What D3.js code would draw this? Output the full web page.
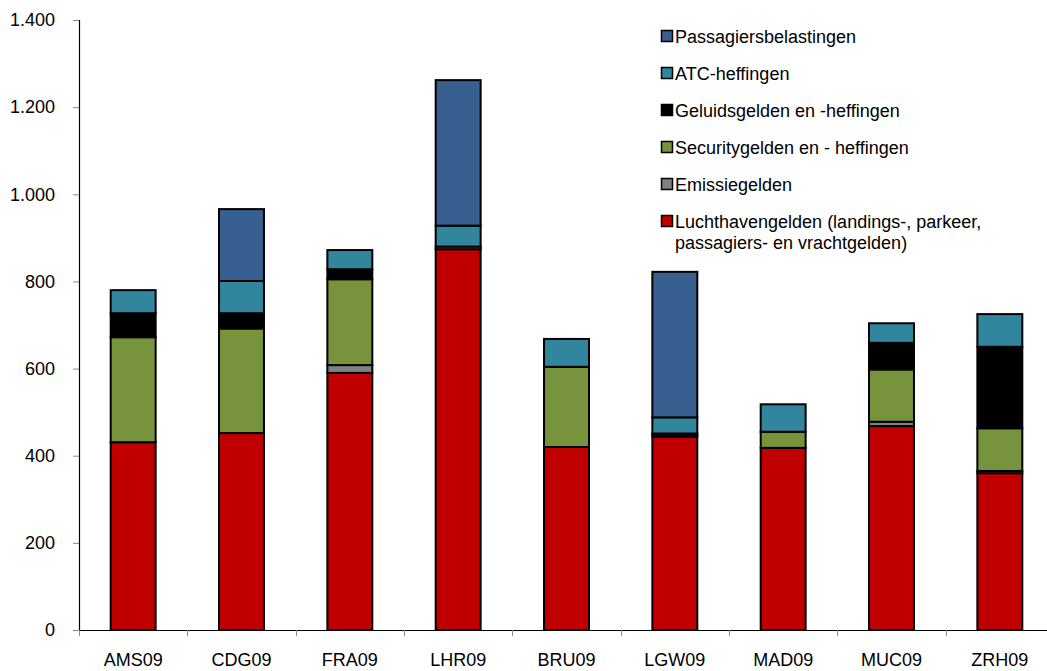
<!DOCTYPE html>
<html>
<head>
<meta charset="utf-8">
<script src="https://cdn.jsdelivr.net/npm/d3@7"></script>
<style>
  html, body { margin: 0; padding: 0; background: #fff; }
  svg { display: block; font-family: "Liberation Sans", Arial, sans-serif; }
</style>
</head>
<body>
<svg id="chart" width="1047" height="671"></svg>
<script>
const categories = ["AMS09", "CDG09", "FRA09", "LHR09", "BRU09", "LGW09", "MAD09", "MUC09", "ZRH09"];
const seriesNames = [
  "Luchthavengelden (landings-, parkeer, passagiers- en vrachtgelden)",
  "Emissiegelden",
  "Securitygelden en - heffingen",
  "Geluidsgelden en -heffingen",
  "ATC-heffingen",
  "Passagiersbelastingen"
];
const luchthaven = [431, 452, 590, 874, 420, 444, 418, 468, 360];
const emissie    = [0, 0, 18, 6, 0, 3, 0, 10, 5];
const security   = [241, 240, 197, 0, 184, 0, 37, 120, 98];
const geluid     = [55, 35, 23, 0, 0, 4, 0, 61, 187];
const atc        = [53, 74, 44, 48, 64, 37, 63, 45, 75];
const passagiers = [0, 165, 0, 334, 0, 334, 0, 0, 0];
const colors = ["#C00000", "#808080", "#77933C", "#000000", "#31859C", "#375F8F"];
const yTicks = [0, 200, 400, 600, 800, 1000, 1200, 1400];
const legendLines = [
  ["Passagiersbelastingen"],
  ["ATC-heffingen"],
  ["Geluidsgelden en -heffingen"],
  ["Securitygelden en - heffingen"],
  ["Emissiegelden"],
  ["Luchthavengelden (landings-, parkeer,", "passagiers- en vrachtgelden)"]
];

const seriesArrays = [luchthaven, emissie, security, geluid, atc, passagiers];
const table = categories.map((c, i) => {
  const row = { cat: c };
  seriesNames.forEach((s, k) => row[s] = seriesArrays[k][i]);
  return row;
});

const FS = 18;
const svg = d3.select("#chart");
const x0 = 79, x1 = 1054, yTop = 20, yBot = 630;

const x = d3.scaleBand().domain(categories).range([x0, x1]).paddingInner(0.585).paddingOuter(0.2925);
const y = d3.scaleLinear().domain([0, 1400]).range([yBot, yTop]);

const stack = d3.stack().keys(seriesNames)(table);

const g = svg.append("g");
stack.forEach((layer, k) => {
  g.selectAll(null)
    .data(layer.filter(d => d[1] - d[0] > 0))
    .enter().append("rect")
    .attr("x", d => x(d.data.cat))
    .attr("width", x.bandwidth())
    .attr("y", d => y(d[1]))
    .attr("height", d => y(d[0]) - y(d[1]))
    .attr("fill", colors[k])
    .attr("stroke", "#000")
    .attr("stroke-width", 2);
});

// Y axis
const yAxis = d3.axisLeft(y).tickValues(yTicks).tickSize(6).tickPadding(18)
  .tickFormat(d => d3.format(",")(d).replace(/,/g, "."));
const ya = svg.append("g").attr("transform", `translate(${x0},0)`).call(yAxis);
ya.select(".domain").attr("stroke", "#000").attr("stroke-width", 1.2).attr("d", `M0.5,${yTop}V${yBot}`);
ya.selectAll(".tick line").attr("stroke", "#888").attr("stroke-width", 1);
ya.selectAll(".tick text").attr("font-size", FS).attr("fill", "#000")
  .attr("font-family", "Liberation Sans, Arial, sans-serif");

// X axis
const xa = svg.append("g").attr("transform", `translate(0,${yBot})`);
xa.append("line").attr("x1", x0).attr("x2", x1).attr("y1", 0.5).attr("y2", 0.5)
  .attr("stroke", "#000").attr("stroke-width", 1.2);
const step = x.step();
d3.range(categories.length + 1).forEach(i => {
  const xp = Math.round(x0 + i * step) + 0.5;
  xa.append("line").attr("x1", xp).attr("x2", xp).attr("y1", 0).attr("y2", 6)
    .attr("stroke", "#888").attr("stroke-width", 1);
});
xa.selectAll("text.xl").data(categories).enter().append("text")
  .attr("class", "xl")
  .attr("x", d => x(d) + x.bandwidth() / 2)
  .attr("y", 36)
  .attr("text-anchor", "middle")
  .attr("font-size", FS)
  .attr("fill", "#000")
  .text(d => d);

// Legend
const legendColors = [colors[5], colors[4], colors[3], colors[2], colors[1], colors[0]];
const lg = svg.append("g");
legendLines.forEach((lines, i) => {
  const cy = 36 + i * 37;
  lg.append("rect").attr("x", 661.5).attr("y", cy - 5.5).attr("width", 11).attr("height", 11)
    .attr("fill", legendColors[i]).attr("stroke", "#000").attr("stroke-width", 1.5);
  lines.forEach((t, j) => {
    lg.append("text").attr("x", 675).attr("y", cy + 6.5 + j * 21.5)
      .attr("font-size", FS).attr("fill", "#000").text(t);
  });
});
</script>
</body>
</html>
